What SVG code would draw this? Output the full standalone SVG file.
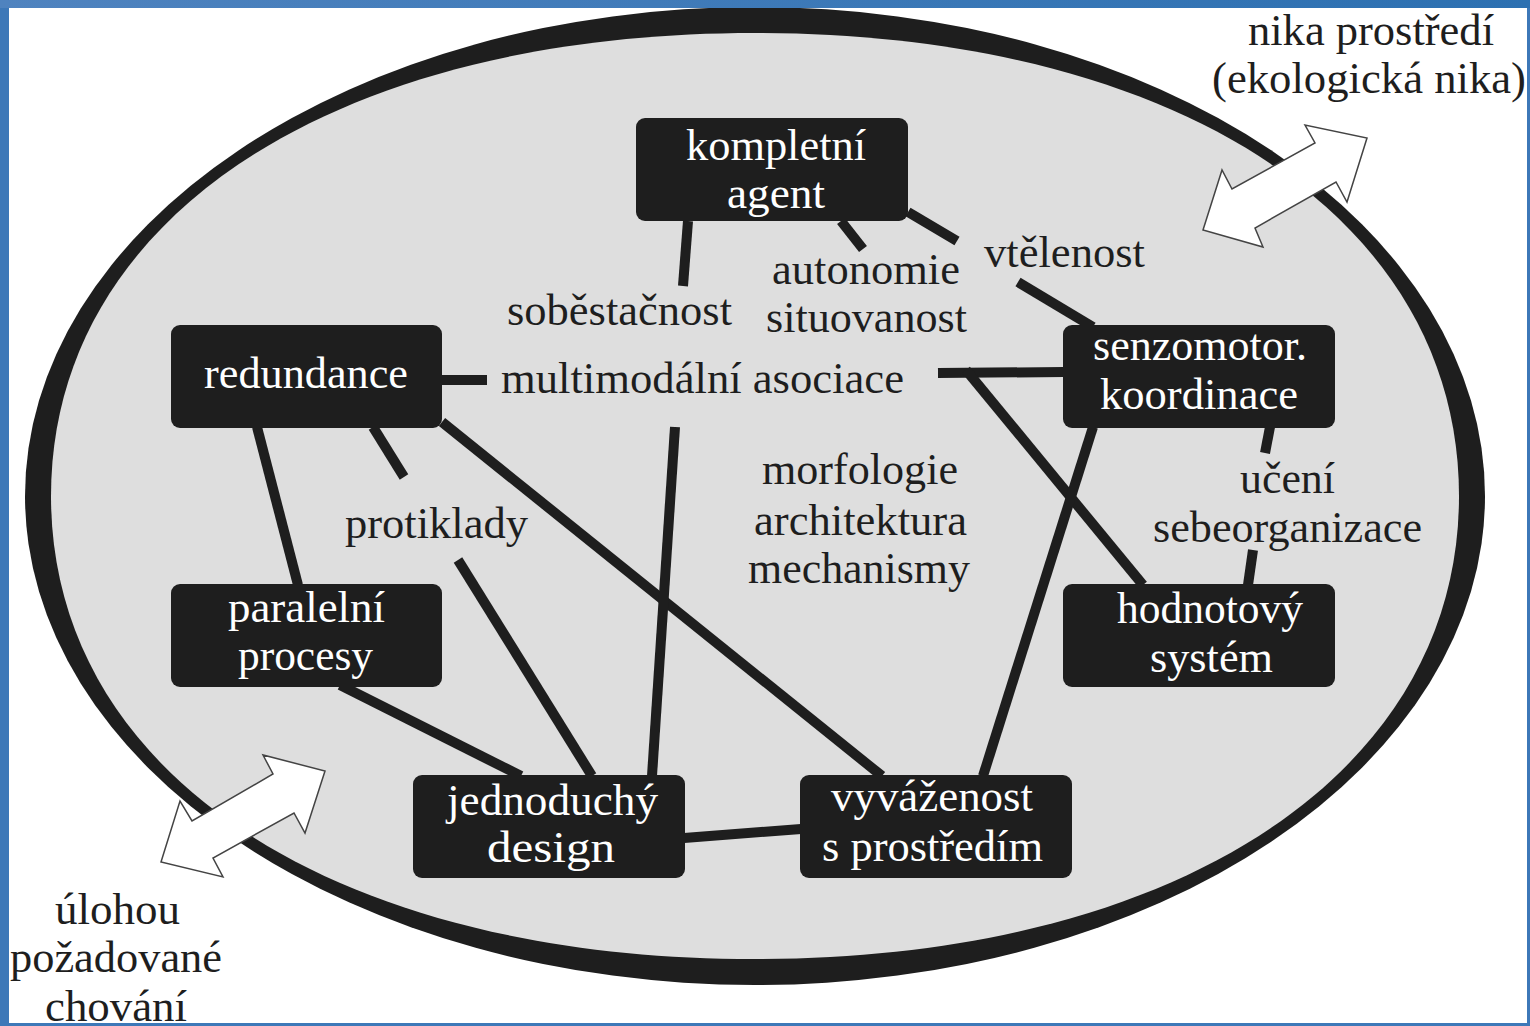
<svg xmlns="http://www.w3.org/2000/svg" width="1530" height="1026" viewBox="0 0 1530 1026">
<defs>
<linearGradient id="blueTop" x1="0" y1="0" x2="1" y2="0">
<stop offset="0" stop-color="#4f83bf"/>
<stop offset="1" stop-color="#2c70b1"/>
</linearGradient>
<style>
.node rect{fill:#1e1e1e}
.node text{fill:#ffffff}
text{font-family:"Liberation Serif","Times New Roman",serif;font-size:45px}
.lbl{fill:#1e1e1e}
.conn line{stroke:#1e1e1e;stroke-width:10;stroke-linecap:butt}
.arrow{fill:#ffffff;stroke:#444444;stroke-width:1.5;stroke-linejoin:miter}
</style>
</defs>
<rect x="0" y="0" width="1530" height="1026" fill="#ffffff"/>
<g id="environment">
<ellipse cx="755" cy="496" rx="730" ry="489" fill="#1e1e1e"/>
<path d="M1459,496 C1459,773.8 1177.4,959 755,959 C332.6,959 51,773.8 51,496 C51,218.2 332.6,33 755,33 C1177.4,33 1459,218.2 1459,496 Z" fill="#dedede"/>
</g>
<g id="connectors" class="conn">
<line x1="688" y1="221" x2="683" y2="286"/>
<line x1="841" y1="221" x2="863" y2="249"/>
<line x1="908" y1="212" x2="957" y2="241"/>
<line x1="1018" y1="282" x2="1093" y2="327"/>
<line x1="442" y1="380" x2="487" y2="380"/>
<line x1="938" y1="373" x2="1064" y2="372"/>
<line x1="966" y1="370" x2="1143" y2="585"/>
<line x1="1093" y1="427" x2="983" y2="776"/>
<line x1="1270" y1="427" x2="1265" y2="453"/>
<line x1="1253" y1="550" x2="1248" y2="585"/>
<line x1="257" y1="427" x2="298" y2="585"/>
<line x1="373" y1="427" x2="404" y2="477"/>
<line x1="442" y1="422" x2="882" y2="776"/>
<line x1="458" y1="560" x2="592" y2="776"/>
<line x1="675" y1="427" x2="652" y2="776"/>
<line x1="340" y1="685" x2="521" y2="776"/>
<line x1="684" y1="838" x2="801" y2="829"/>
</g>
<g id="arrow-top" class="arrow">
<polygon points="1203,230 1222,170 1232,189 1315,143 1305,125 1367,138 1347,202 1336,182 1255,228 1263,247"/>
</g>
<g id="arrow-bottom" class="arrow">
<polygon points="161,862 180,801 192,821 273,774 263,755 325,771 305,833 294,813 213,858 223,877"/>
</g>
<g id="node-kompletni" class="node">
<rect x="636" y="118" width="272" height="103" rx="9"/>
<text x="686" y="160" textLength="180" lengthAdjust="spacingAndGlyphs">kompletní</text>
<text x="727" y="208" textLength="98" lengthAdjust="spacingAndGlyphs">agent</text>
</g>
<g id="node-redundance" class="node">
<rect x="171" y="325" width="271" height="103" rx="9"/>
<text x="204" y="388" textLength="204" lengthAdjust="spacingAndGlyphs">redundance</text>
</g>
<g id="node-senzomotor" class="node">
<rect x="1063" y="325" width="272" height="103" rx="9"/>
<text x="1093" y="360" textLength="214" lengthAdjust="spacingAndGlyphs">senzomotor.</text>
<text x="1100" y="409" textLength="198" lengthAdjust="spacingAndGlyphs">koordinace</text>
</g>
<g id="node-paralelni" class="node">
<rect x="171" y="584" width="271" height="103" rx="9"/>
<text x="228" y="622" textLength="157" lengthAdjust="spacingAndGlyphs">paralelní</text>
<text x="238" y="670" textLength="135" lengthAdjust="spacingAndGlyphs">procesy</text>
</g>
<g id="node-hodnotovy" class="node">
<rect x="1063" y="584" width="272" height="103" rx="9"/>
<text x="1117" y="623" textLength="186" lengthAdjust="spacingAndGlyphs">hodnotový</text>
<text x="1150" y="672" textLength="123" lengthAdjust="spacingAndGlyphs">systém</text>
</g>
<g id="node-jednoduchy" class="node">
<rect x="413" y="775" width="272" height="103" rx="9"/>
<text x="447" y="815" textLength="211" lengthAdjust="spacingAndGlyphs">jednoduchý</text>
<text x="487" y="862" textLength="128" lengthAdjust="spacingAndGlyphs">design</text>
</g>
<g id="node-vyvazenost" class="node">
<rect x="800" y="775" width="272" height="103" rx="9"/>
<text x="831" y="811" textLength="202" lengthAdjust="spacingAndGlyphs">vyváženost</text>
<text x="822" y="861" textLength="221" lengthAdjust="spacingAndGlyphs">s prostředím</text>
</g>
<g id="labels" class="lbl">
<text class="lbl" x="1248" y="45" textLength="246" lengthAdjust="spacingAndGlyphs">nika prostředí</text>
<text class="lbl" x="1212" y="93" textLength="314" lengthAdjust="spacingAndGlyphs">(ekologická nika)</text>
<text class="lbl" x="984" y="267" textLength="161" lengthAdjust="spacingAndGlyphs">vtělenost</text>
<text class="lbl" x="772" y="284" textLength="188" lengthAdjust="spacingAndGlyphs">autonomie</text>
<text class="lbl" x="507" y="325" textLength="225" lengthAdjust="spacingAndGlyphs">soběstačnost</text>
<text class="lbl" x="766" y="332" textLength="201" lengthAdjust="spacingAndGlyphs">situovanost</text>
<text class="lbl" x="501" y="393" textLength="403" lengthAdjust="spacingAndGlyphs">multimodální asociace</text>
<text class="lbl" x="762" y="484" textLength="196" lengthAdjust="spacingAndGlyphs">morfologie</text>
<text class="lbl" x="754" y="535" textLength="213" lengthAdjust="spacingAndGlyphs">architektura</text>
<text class="lbl" x="748" y="583" textLength="222" lengthAdjust="spacingAndGlyphs">mechanismy</text>
<text class="lbl" x="345" y="538" textLength="183" lengthAdjust="spacingAndGlyphs">protiklady</text>
<text class="lbl" x="1240" y="493" textLength="95" lengthAdjust="spacingAndGlyphs">učení</text>
<text class="lbl" x="1153" y="542" textLength="269" lengthAdjust="spacingAndGlyphs">sebeorganizace</text>
<text class="lbl" x="55" y="924" textLength="125" lengthAdjust="spacingAndGlyphs">úlohou</text>
<text class="lbl" x="10" y="972" textLength="212" lengthAdjust="spacingAndGlyphs">požadované</text>
<text class="lbl" x="45" y="1021" textLength="142" lengthAdjust="spacingAndGlyphs">chování</text>
</g>
<g id="frame">
<path d="M0,0 H1530 V1026 H0 Z M9,8 V1023 H1527 V8 Z" fill="#3d78b8" fill-rule="evenodd"/>
<rect x="0" y="0" width="1530" height="8" fill="url(#blueTop)"/>
</g>
</svg>
